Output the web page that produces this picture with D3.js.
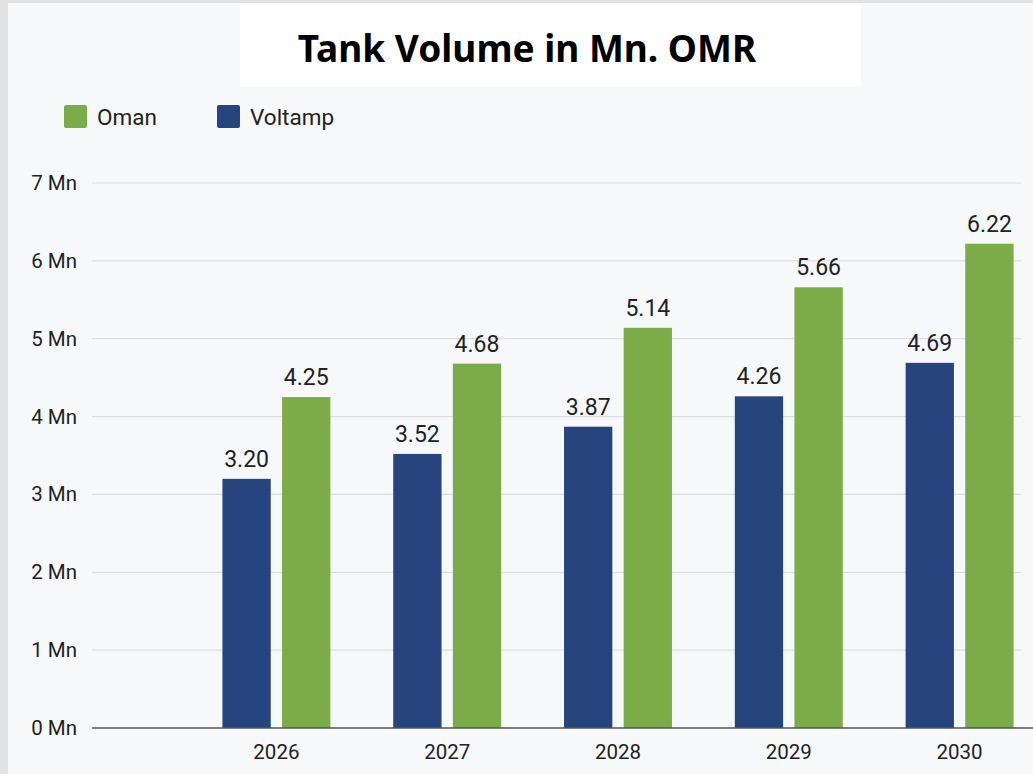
<!DOCTYPE html>
<html>
<head>
<meta charset="utf-8">
<script src="https://cdn.jsdelivr.net/npm/d3@7"></script>
<style>
  html, body { margin: 0; padding: 0; background: #e4e4e4; }
  svg { display: block; }
</style>
</head>
<body>
<div id="chart"></div>
<script>
const years = ['2026', '2027', '2028', '2029', '2030'];
const seriesNames = ['Voltamp', 'Oman'];
const voltamp = [3.20, 3.52, 3.87, 4.26, 4.69];
const oman = [4.25, 4.68, 5.14, 5.66, 6.22];
const yTicks = [0, 1, 2, 3, 4, 5, 6, 7];
const legendNames = ['Oman', 'Voltamp'];

const width = 1033;
const height = 774;

const colors = { Oman: '#7bac47', Voltamp: '#26457f' };

const svg = d3.select('#chart')
  .append('svg')
  .attr('width', width)
  .attr('height', height);

// textured outer background, then the chart panel
svg.append('rect')
  .attr('width', width).attr('height', height)
  .attr('fill', '#e2e2e2');
svg.append('rect')
  .attr('x', 8).attr('y', 3)
  .attr('width', width - 8).attr('height', height - 3)
  .attr('fill', '#f7f8fa');

// title box
svg.append('rect')
  .attr('x', 240).attr('y', 3)
  .attr('width', 621).attr('height', 84)
  .attr('fill', '#ffffff');
svg.append('text')
  .attr('x', 527).attr('y', 62)
  .attr('text-anchor', 'middle')
  .style('font-family', '"Noto Sans", sans-serif')
  .style('font-weight', 700)
  .style('font-size', '37px')
  .attr('fill', '#000')
  .text('Tank Volume in Mn. OMR');

// legend
const legend = svg.append('g').attr('transform', 'translate(64,105)');
const legendItems = legend.selectAll('g')
  .data(legendNames)
  .enter().append('g')
  .attr('transform', (d, i) => `translate(${i * 153},0)`);
legendItems.append('rect')
  .attr('width', 23).attr('height', 23)
  .attr('rx', 2)
  .attr('fill', d => colors[d]);
legendItems.append('text')
  .attr('x', 33).attr('y', 12)
  .attr('dy', '0.35em')
  .style('font-family', 'Roboto, sans-serif')
  .style('font-size', '22.5px')
  .attr('fill', '#222')
  .text(d => d);

// scales
const x0 = d3.scaleBand()
  .domain(years)
  .range([191, 1045])
  .paddingInner(0.368)
  .paddingOuter(0.184);

const x1 = d3.scaleBand()
  .domain(seriesNames)
  .range([0, x0.bandwidth()])
  .paddingInner(0.19);

const y = d3.scaleLinear()
  .domain([0, 7])
  .range([728, 183]);

// gridlines
svg.append('g')
  .selectAll('line')
  .data(yTicks.filter(d => d > 0))
  .enter().append('line')
  .attr('x1', 92).attr('x2', 1021)
  .attr('y1', d => y(d)).attr('y2', d => y(d))
  .attr('stroke', '#dcdee3')
  .attr('stroke-width', 1.2);

// y axis labels
const yAxis = svg.append('g')
  .attr('transform', 'translate(92,0)')
  .call(d3.axisLeft(y).tickValues(yTicks).tickSize(0).tickPadding(15).tickFormat(d => d + ' Mn'));
yAxis.select('.domain').remove();
yAxis.selectAll('text')
  .style('font-family', 'Roboto, sans-serif')
  .style('font-size', '20.5px')
  .attr('fill', '#222');

// bars
const rows = years.map((yr, i) => ({ year: yr, Voltamp: voltamp[i], Oman: oman[i] }));
const groups = svg.append('g')
  .selectAll('g')
  .data(rows)
  .enter().append('g')
  .attr('transform', d => `translate(${x0(d.year)},0)`);

groups.selectAll('rect')
  .data(d => seriesNames.map(k => ({ key: k, value: d[k] })))
  .enter().append('rect')
  .attr('x', d => x1(d.key))
  .attr('y', d => y(d.value))
  .attr('width', x1.bandwidth())
  .attr('height', d => y(0) - y(d.value))
  .attr('fill', d => colors[d.key]);

groups.selectAll('text')
  .data(d => seriesNames.map(k => ({ key: k, value: d[k] })))
  .enter().append('text')
  .attr('x', d => x1(d.key) + x1.bandwidth() / 2)
  .attr('y', d => y(d.value) - 12)
  .attr('text-anchor', 'middle')
  .style('font-family', 'Roboto, sans-serif')
  .style('font-size', '23px')
  .attr('fill', '#222')
  .text(d => d.value.toFixed(2));

// baseline
svg.append('line')
  .attr('x1', 92).attr('x2', 1033)
  .attr('y1', y(0)).attr('y2', y(0))
  .attr('stroke', '#555')
  .attr('stroke-width', 1.5);

// x axis labels
const xAxis = svg.append('g')
  .attr('transform', `translate(0,${y(0)})`)
  .call(d3.axisBottom(x0).tickSize(0).tickPadding(16));
xAxis.select('.domain').remove();
xAxis.selectAll('text')
  .style('font-family', 'Roboto, sans-serif')
  .style('font-size', '20.5px')
  .attr('fill', '#222');
</script>
</body>
</html>
